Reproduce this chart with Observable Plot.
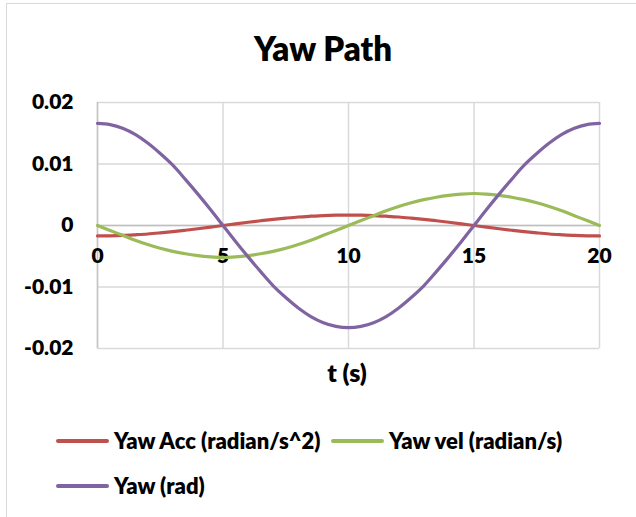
<!DOCTYPE html>
<html>
<head>
<meta charset="utf-8">
<script src="https://cdn.jsdelivr.net/npm/d3@7"></script>
<script src="https://cdn.jsdelivr.net/npm/@observablehq/plot@0.6"></script>
<style>
  html, body { margin: 0; padding: 0; background: #fff; }
  #chart { position: relative; width: 636px; height: 517px; overflow: hidden; font-family: Lato, "Open Sans", sans-serif; font-weight: 800; color: #000; }
  #border { position: absolute; left: 6px; top: 3px; width: 700px; height: 600px; border: 1.5px solid #d9d9d9; box-sizing: border-box; }
  #plot { position: absolute; left: 0; top: 0; }
  .lbl { position: absolute; white-space: nowrap; line-height: 1; }
  .sw { position: absolute; height: 4px; border-radius: 2px; }
</style>
</head>
<body>
<div id="chart">
  <div id="border"></div>
  <div id="plot"></div>
</div>
<script>
// Data (every 0.5 s)
const times = [0,0.5,1,1.5,2,2.5,3,3.5,4,4.5,5,5.5,6,6.5,7,7.5,8,8.5,9,9.5,10,
  10.5,11,11.5,12,12.5,13,13.5,14,14.5,15,15.5,16,16.5,17,17.5,18,18.5,19,19.5,20];
const yawAcc = [-0.0017,-0.00168,-0.00162,-0.00151,-0.00138,-0.0012,-0.001,-0.00077,-0.00053,-0.00027,0,
  0.00027,0.00053,0.00077,0.001,0.0012,0.00138,0.00151,0.00162,0.00168,0.0017,
  0.00168,0.00162,0.00151,0.00138,0.0012,0.001,0.00077,0.00053,0.00027,0,
  -0.00027,-0.00053,-0.00077,-0.001,-0.0012,-0.00138,-0.00151,-0.00162,-0.00168,-0.0017];
const yawVel = [0,-0.0008,-0.0016,-0.0024,-0.0031,-0.0037,-0.0042,-0.0046,-0.0049,-0.0051,-0.0052,
  -0.0051,-0.0049,-0.0046,-0.0042,-0.0037,-0.0031,-0.0024,-0.0016,-0.0008,0,
  0.0008,0.0016,0.0024,0.0031,0.0037,0.0042,0.0046,0.0049,0.0051,0.0052,
  0.0051,0.0049,0.0046,0.0042,0.0037,0.0031,0.0024,0.0016,0.0008,0];
const yaw = [0.0166,0.0164,0.0158,0.0148,0.0134,0.0117,0.0098,0.0075,0.0051,0.0026,0,
  -0.0026,-0.0051,-0.0075,-0.0098,-0.0117,-0.0134,-0.0148,-0.0158,-0.0164,-0.0166,
  -0.0164,-0.0158,-0.0148,-0.0134,-0.0117,-0.0098,-0.0075,-0.0051,-0.0026,0,
  0.0026,0.0051,0.0075,0.0098,0.0117,0.0134,0.0148,0.0158,0.0164,0.0166];
const seriesNames = ["Yaw Acc (radian/s^2)", "Yaw vel (radian/s)", "Yaw (rad)"];
const seriesColors = ["#C0504D", "#9BBB59", "#8064A2"];
const xTicks = [0,5,10,15,20];
const yTicks = [-0.02,-0.01,0,0.01,0.02];
const yTickLabels = ["-0.02","-0.01","0","0.01","0.02"];
const titleText = "Yaw Path";
const xLabel = "t (s)";

const seriesValues = [yawAcc, yawVel, yaw];
const rows = [];
seriesValues.forEach((vals, i) => vals.forEach((v, j) => rows.push({t: times[j], v, s: seriesNames[i]})));

const fontFam = 'Lato, "Open Sans", sans-serif';
const plot = Plot.plot({
  width: 636,
  height: 517,
  marginLeft: 97,
  marginRight: 37,
  marginTop: 102,
  marginBottom: 169,
  style: {fontFamily: fontFam, background: "transparent", overflow: "visible"},
  x: {domain: [0, 20]},
  y: {domain: [-0.02, 0.02]},
  color: {domain: seriesNames, range: seriesColors},
  marks: [
    Plot.gridX(xTicks, {stroke: "#d9d9d9", strokeOpacity: 1, strokeWidth: 1.5}),
    Plot.gridY(yTicks, {stroke: "#d9d9d9", strokeOpacity: 1, strokeWidth: 1.5}),
    Plot.ruleX([0], {stroke: "#c4c4c4", strokeWidth: 1.5}),
    Plot.ruleY([0], {stroke: "#bfbfbf", strokeWidth: 1.5}),
    Plot.axisY(yTicks, {
      tickSize: 0, tickPadding: 24, label: null,
      tickFormat: (d) => yTickLabels[yTicks.indexOf(d)],
      fontSize: 21, fontWeight: 800, fill: "#000"
    }),
    Plot.axisX({ticks: [], label: null, tickSize: 0}),
    Plot.text(xTicks, {x: (d) => d, y: 0, text: (d) => String(d), dy: 31, fontSize: 21, fontWeight: 800, fill: "#000"}),
    Plot.line(rows, {x: "t", y: "v", stroke: "s", z: "s", strokeWidth: 3.2, curve: "catmull-rom"})
  ]
});
document.getElementById("plot").appendChild(plot);

const chart = document.getElementById("chart");
function addLabel(text, x, y, size, align) {
  const d = document.createElement("div");
  d.className = "lbl";
  d.textContent = text;
  d.style.fontSize = size + "px";
  d.style.top = (y - size / 2) + "px";
  if (align === "center") { d.style.left = (x - 200) + "px"; d.style.width = "400px"; d.style.textAlign = "center"; }
  else { d.style.left = x + "px"; }
  chart.appendChild(d);
  return d;
}
addLabel(titleText, 323, 48, 33, "center");
addLabel(xLabel, 347, 372, 25, "center");

// Legend
const legendPos = [[56, 441], [331, 441], [56, 486]];
seriesNames.forEach((name, i) => {
  const [x, y] = legendPos[i];
  const sw = document.createElement("div");
  sw.className = "sw";
  sw.style.left = x + "px";
  sw.style.width = "53px";
  sw.style.top = (y - 2) + "px";
  sw.style.background = seriesColors[i];
  chart.appendChild(sw);
  addLabel(name, x + 58, y, 22, "left");
});
</script>
</body>
</html>
